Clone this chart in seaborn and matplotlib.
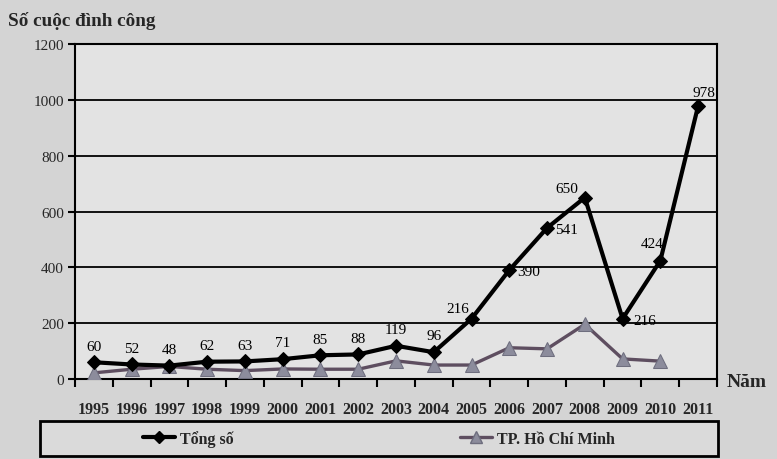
import numpy as np
import pandas as pd
import matplotlib
matplotlib.use("Agg")
import matplotlib.pyplot as plt
from matplotlib.patches import Rectangle
from matplotlib.lines import Line2D
import seaborn as sns

years = ["1995", "1996", "1997", "1998", "1999", "2000", "2001", "2002", "2003",
         "2004", "2005", "2006", "2007", "2008", "2009", "2010", "2011"]
tong_so = [60, 52, 48, 62, 63, 71, 85, 88, 119, 96, 216, 390, 541, 650, 216, 424, 978]
tp_hcm = [22, 35, 45, 35, 30, 36, 35, 35, 65, 50, 50, 112, 108, 196, 72, 64]
y_ticks = [0, 200, 400, 600, 800, 1000, 1200]

series_total = "Tổng số"
series_hcm = "TP. Hồ Chí Minh"

sns.set_theme(style="white")
plt.rcParams["font.family"] = ["Liberation Serif", "DejaVu Serif"]

fig = plt.figure(figsize=(7.77, 4.6), dpi=100, facecolor="#d4d4d4")
ax = fig.add_axes([75 / 777, 80 / 460, 642 / 777, 335 / 460])
ax.set_facecolor("#e3e3e3")

pos_total = np.arange(len(tong_so))
pos_hcm = np.arange(len(tp_hcm))
df_total = pd.DataFrame({"x": pos_total, "y": tong_so})
df_hcm = pd.DataFrame({"x": pos_hcm, "y": tp_hcm})

sns.lineplot(data=df_hcm, x="x", y="y", ax=ax, color="#5e4e60", lw=2.4,
             marker="^", markersize=9.5, markerfacecolor="#8c8c9c",
             markeredgecolor="#6e6e7e", zorder=3)
sns.lineplot(data=df_total, x="x", y="y", ax=ax, color="black", lw=3,
             marker="D", markersize=7, markerfacecolor="black",
             markeredgecolor="black", zorder=4)

# value labels for the total series
offsets = {10: (-10, 3), 11: (14, -6), 12: (14, -6), 13: (-13, 2),
           14: (16, -6), 15: (-6, 8), 16: (4, 5)}
for i, v in enumerate(tong_so):
    dx, dy = offsets.get(i, (0, 7))
    ax.annotate(str(v), (pos_total[i], v), xytext=(dx, dy),
                textcoords="offset points", ha="center", va="bottom",
                fontsize=11, color="black", zorder=5)

ax.set_xlim(-0.5, len(years) - 0.5)
ax.set_ylim(0, 1200)
ax.set_yticks(y_ticks)
ax.set_yticklabels([str(t) for t in y_ticks], fontsize=11)
ax.set_xticks(pos_total)
ax.set_xticklabels(years, fontsize=11.5, fontweight="bold")
ax.set_xticks(np.arange(len(years) + 1) - 0.5, minor=True)
ax.tick_params(axis="x", which="major", length=0, pad=16)
ax.tick_params(axis="x", which="minor", length=6, width=1.5, color="black",
               direction="out", bottom=True)
ax.tick_params(axis="y", length=5, width=1.5, color="black", direction="out",
               left=True, pad=3)
ax.set_xlabel("")
ax.set_ylabel("")
ax.grid(axis="y", color="black", lw=1.3)
ax.grid(axis="x", visible=False)
for side in ["left", "right", "top", "bottom"]:
    ax.spines[side].set_visible(True)
    ax.spines[side].set_color("black")
    ax.spines[side].set_linewidth(1.5)

fig.text(8 / 777, 1 - 21 / 460, "Số cuộc đình công", fontsize=13.8,
         fontweight="bold", va="center", ha="left")
fig.text(727 / 777, 1 - 383 / 460, "Năm", fontsize=14,
         fontweight="bold", va="center", ha="left")

# legend frame
fig.patches.append(Rectangle((40 / 777, 1 - 457 / 460), 678 / 777, 35 / 460,
                             transform=fig.transFigure, facecolor="#dadada",
                             edgecolor="black", lw=2))
handles = [
    Line2D([], [], color="black", lw=3, marker="D", markersize=6,
           markerfacecolor="black"),
    Line2D([], [], color="#5e4e60", lw=2.4, marker="^", markersize=8,
           markerfacecolor="#8c8c9c", markeredgecolor="#6e6e7e"),
]
fig.legend(handles, [series_total, series_hcm], loc="center",
           bbox_to_anchor=(379 / 777, 1 - 439.5 / 460), ncol=2,
           frameon=False, prop={"weight": "bold", "size": 11.5},
           handlelength=2.0, handletextpad=0.3, columnspacing=14.2)

fig.savefig("out.png", dpi=100, facecolor=fig.get_facecolor())
